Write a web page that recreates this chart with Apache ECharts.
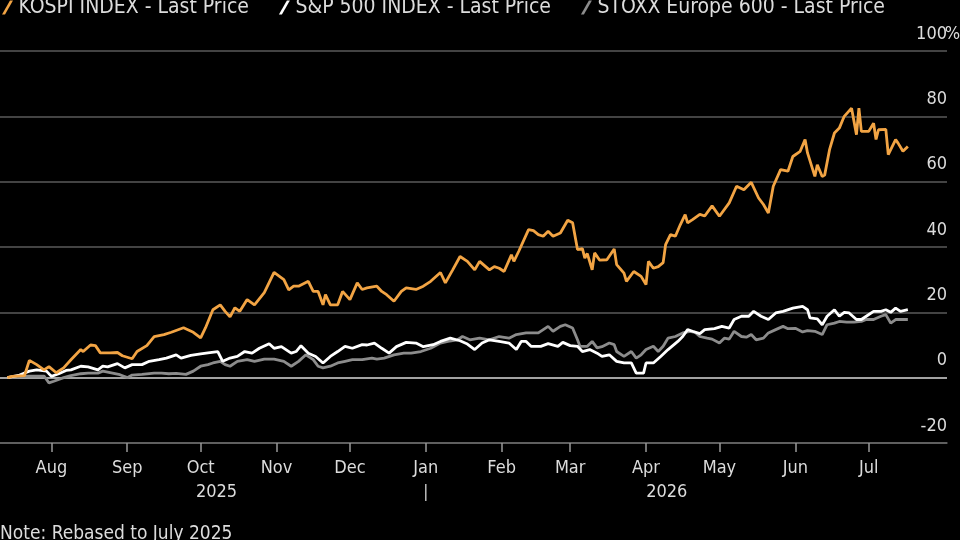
<!DOCTYPE html>
<html>
<head>
<meta charset="utf-8">
<script src="https://cdn.jsdelivr.net/npm/echarts@6/dist/echarts.min.js"></script>
<style>
  html, body { margin: 0; padding: 0; background: #000; }
  #chart { width: 960px; height: 540px; }
</style>
</head>
<body>
<div id="chart"></div>
<script>
const FONT = "'DejaVu Sans Condensed', 'Liberation Sans Narrow', 'DejaVu Sans', sans-serif";
const MONTHS = ["Jan", "Feb", "Mar", "Apr", "May", "Jun", "Jul", "Aug", "Sep", "Oct", "Nov", "Dec"];

// x values are calendar days after 11 Jul 2025, y values are % change
const seriesNames = ["KOSPI INDEX - Last Price", "S&P 500 INDEX - Last Price", "STOXX Europe 600 - Last Price"];
const seriesColors = ["#f2a444", "#ffffff", "#8c8c8c"];

const orangeDays = [3, 5, 10, 12, 15, 18, 20, 23, 26, 29, 33, 34, 37, 39, 41, 45, 48, 50, 54, 56, 60, 63, 67, 70, 75, 79, 82, 84, 87, 90, 92, 94, 96, 98, 101, 104, 108, 112, 116, 118, 120, 122, 126, 128, 130, 132, 133, 135, 138, 140, 143, 146, 148, 150, 154, 156, 158, 161, 164, 166, 170, 173, 176, 180, 182, 185, 188, 191, 194, 196, 200, 202, 204, 206, 209, 210, 212, 216, 218, 220, 222, 224, 226, 229, 232, 234, 236, 238, 239, 240, 242, 243, 245, 248, 251, 252, 255, 256, 259, 262, 264, 265, 267, 269, 271, 272, 274, 276, 278, 280, 281, 283, 286, 288, 291, 294, 298, 301, 304, 307, 310, 312, 314, 316, 319, 322, 324, 327, 329, 330, 333, 334, 336, 337, 339, 341, 343, 345, 348, 350, 351, 352, 355, 357, 358, 359, 362, 363, 366, 367, 369, 371];
const orangeValues = [0, 0.4, 0.6, 5.3, 4, 2.4, 3.4, 1.5, 3, 5.5, 8.6, 8, 10, 9.8, 7.6, 7.6, 7.7, 6.7, 5.8, 8, 9.8, 12.6, 13.2, 13.9, 15.3, 13.9, 12.2, 15.3, 20.8, 22.3, 20.3, 18.6, 21.4, 20.3, 23.9, 22.3, 26, 32.2, 30, 26.9, 28, 28, 29.5, 26.4, 26.4, 22.3, 25.4, 22.3, 22.3, 26.4, 23.9, 29, 27, 27.5, 28, 26.4, 25.4, 23.4, 26.4, 27.5, 27, 28, 29.5, 32.2, 29, 33, 37.1, 35.6, 33, 35.6, 33, 34, 33.5, 32.5, 37.6, 35.6, 38.7, 45.3, 45, 43.8, 43.3, 44.8, 43.3, 44.3, 48.2, 47.4, 39.2, 39.5, 36.6, 38, 33, 38.2, 36, 36.1, 39.4, 34.6, 32, 29.5, 32.5, 31, 28.5, 35.6, 33.5, 34, 35.2, 40.7, 43.8, 43.3, 46.8, 49.9, 47.4, 48.4, 50, 49.5, 52.6, 49.4, 53.5, 58.6, 57.5, 59.8, 55, 53, 50.4, 58.6, 63.7, 63.2, 67.7, 69.3, 72.9, 68.8, 61.6, 65.2, 61.6, 62, 69.8, 74.9, 76.4, 80, 82.5, 74.4, 82.5, 75.4, 75.4, 77.9, 72.9, 75.9, 76, 68.3, 72.9, 71.8, 69.3, 70.8];

const whiteDays = [3, 8, 12, 15, 19, 21, 24, 27, 29, 33, 36, 40, 42, 44, 48, 51, 54, 58, 61, 65, 68, 72, 74, 78, 82, 85, 89, 91, 94, 97, 100, 103, 106, 110, 112, 115, 119, 121, 123, 126, 129, 132, 135, 138, 141, 144, 148, 150, 153, 156, 159, 162, 166, 170, 173, 177, 180, 184, 188, 191, 194, 197, 200, 204, 208, 211, 213, 215, 217, 221, 224, 228, 230, 233, 236, 238, 241, 244, 246, 249, 252, 255, 258, 260, 263, 264, 267, 270, 273, 277, 279, 281, 283, 286, 288, 292, 295, 298, 300, 303, 306, 308, 311, 314, 317, 320, 324, 328, 330, 331, 334, 336, 338, 341, 343, 345, 347, 350, 352, 354, 357, 360, 362, 364, 366, 368, 371];
const whiteValues = [0, 0.8, 2, 2.4, 2, 0.4, 1.2, 2.2, 2.4, 3.5, 3.3, 2.4, 3.5, 3.3, 4.3, 3, 4, 4, 5, 5.5, 6, 7, 6, 6.8, 7.3, 7.6, 8, 5, 6, 6.5, 8, 7.5, 9, 10.4, 9, 9.5, 7.5, 8, 9.8, 7.5, 6.5, 4.5, 6.5, 8, 9.6, 9, 10.1, 10, 10.6, 9, 7.5, 9.5, 10.8, 10.6, 9.5, 10.1, 11.1, 12.1, 11.3, 10.3, 8.6, 10.6, 11.6, 11.1, 10.6, 8.6, 11.1, 11.1, 9.6, 9.6, 10.4, 9.6, 10.8, 9.8, 9.6, 8, 8.6, 7.5, 6.5, 7, 5, 4.5, 4.5, 1.4, 1.4, 4.5, 4.5, 6.5, 8.6, 11.1, 12.6, 14.7, 14.2, 13.5, 14.7, 15, 15.7, 15.2, 17.8, 18.8, 18.8, 20.3, 18.8, 17.8, 19.8, 20.3, 21.3, 21.8, 20.8, 18.3, 18, 16.2, 18.8, 20.8, 18.8, 20, 19.8, 17.8, 17.8, 18.8, 20.3, 20.3, 20.8, 20, 21.3, 20.3, 20.8];

const grayDays = [3, 12, 18, 20, 22, 26, 29, 33, 36, 40, 42, 46, 49, 52, 54, 58, 63, 66, 69, 72, 76, 79, 82, 85, 87, 90, 92, 94, 97, 101, 104, 108, 112, 116, 119, 122, 125, 128, 130, 132, 135, 138, 141, 144, 148, 152, 154, 157, 161, 165, 168, 172, 176, 180, 183, 187, 189, 192, 196, 200, 204, 208, 211, 215, 220, 222, 224, 226, 229, 231, 234, 236, 237, 240, 242, 244, 246, 249, 251, 252, 255, 258, 260, 262, 264, 267, 269, 271, 273, 276, 279, 282, 284, 286, 289, 291, 294, 296, 298, 300, 303, 305, 307, 309, 312, 314, 317, 320, 322, 325, 328, 330, 333, 336, 338, 341, 343, 346, 349, 352, 354, 357, 360, 362, 364, 366, 369, 371];
const grayValues = [0, 0.5, 0.5, -1.6, -1.1, 0, 0.6, 1.2, 1.4, 1.4, 2, 1.4, 0.9, 0, 0.8, 1, 1.4, 1.4, 1.2, 1.3, 1, 2, 3.5, 4, 4.5, 5, 4, 3.5, 5, 5.5, 5, 5.7, 5.7, 5, 3.5, 5, 7, 5.5, 3.5, 3, 3.5, 4.5, 5, 5.5, 5.5, 6, 5.7, 6, 7, 7.5, 7.5, 8, 9, 10.6, 11.1, 11.6, 12.6, 11.6, 12.1, 11.6, 12.6, 12.1, 13.2, 13.7, 13.7, 14.7, 15.7, 14.2, 15.7, 16.2, 15.2, 11.6, 9.6, 9.6, 11.1, 9.1, 9.5, 10.6, 10.1, 8, 6.5, 8, 6, 7, 8.6, 9.6, 8, 9.6, 12.1, 12.6, 13.7, 14.2, 13.9, 12.6, 12.1, 11.8, 10.6, 12.1, 11.8, 14.2, 12.6, 12.4, 13.2, 11.6, 12.1, 13.7, 14.7, 15.7, 15, 15.1, 14, 14.4, 14.2, 13.2, 16.2, 16.7, 17.2, 17, 17, 17.2, 17.8, 17.8, 18.8, 19.3, 16.7, 17.8, 17.8, 17.8];

const monthTicks = ["2025-08-01", "2025-09-01", "2025-10-01", "2025-11-01", "2025-12-01", "2026-01-01", "2026-02-01", "2026-03-01", "2026-04-01", "2026-05-01", "2026-06-01", "2026-07-01"];
const yearLabels = ["2025", "2026"];
const noteText = "Note: Rebased to July 2025";

const DAY = 86400000;
const START = new Date(2025, 6, 11).getTime();
const END = START + 387 * DAY;

function toTime(day) {
  return START + day * DAY;
}

function parseDate(text) {
  const [y, m, d] = text.split("-").map(Number);
  return new Date(y, m - 1, d).getTime();
}

function toPairs(days, values) {
  return days.map((d, i) => [toTime(d), values[i]]);
}

const tickTimes = monthTicks.map(parseDate);
const chart = echarts.init(document.getElementById("chart"));

const legendIcon = "path://M0,14 L8,0 L11,0 L3,14 Z";

function lineSeries(index, days, values, z) {
  return {
    name: seriesNames[index],
    type: "line",
    data: toPairs(days, values),
    showSymbol: false,
    z: z,
    lineStyle: { color: seriesColors[index], width: 2.8 },
    itemStyle: { color: seriesColors[index] },
  };
}

const labelStyle = { color: "#dcdcdc", fontSize: 18, fontFamily: FONT };

chart.setOption({
  backgroundColor: "#000",
  animation: false,
  textStyle: { fontFamily: FONT },
  legend: {
    left: -3,
    top: -8,
    itemWidth: 12,
    itemHeight: 14,
    itemGap: 30,
    icon: legendIcon,
    textStyle: { color: "#dcdcdc", fontSize: 21, fontFamily: FONT },
  },
  grid: { left: 0, right: 13, top: 51, bottom: 97, outerBoundsMode: "none" },
  xAxis: {
    // dates kept as timestamps on a value axis so the month ticks can be placed exactly
    type: "value",
    min: START,
    max: END,
    axisLine: { onZero: false, lineStyle: { color: "#666", width: 1.5 } },
    axisTick: { show: true, customValues: tickTimes, length: 9, lineStyle: { color: "#999", width: 1.5 } },
    axisLabel: {
      customValues: tickTimes,
      margin: 16,
      ...labelStyle,
      formatter: (value) => MONTHS[new Date(value).getMonth()],
    },
    splitLine: { show: false },
  },
  yAxis: {
    type: "value",
    position: "right",
    min: -20,
    max: 100,
    interval: 20,
    axisLine: { show: false },
    axisTick: { show: false },
    axisLabel: {
      inside: true,
      margin: -11,
      verticalAlign: "bottom",
      lineHeight: 20,
      padding: [0, 0, 7, 0],
      ...labelStyle,
      // a fixed-width tail keeps the numbers aligned while "%" hangs past them
      formatter: (value) => "{n|" + value + "}{t|" + (value === 100 ? "%" : " ") + "}",
      rich: {
        n: { ...labelStyle },
        t: { ...labelStyle, width: 11, align: "left" },
      },
    },
    splitLine: {
      lineStyle: {
        color: ["#666", "#d8d8d8", "#5a5a5a", "#5a5a5a", "#5a5a5a", "#5a5a5a", "#5a5a5a"],
        width: 1.6,
      },
    },
  },
  series: [
    lineSeries(0, orangeDays, orangeValues, 4),
    lineSeries(1, whiteDays, whiteValues, 3),
    lineSeries(2, grayDays, grayValues, 2),
  ],
});

// year labels under the month row, centred on each year's share of the data
const janX = chart.convertToPixel({ xAxisIndex: 0 }, parseDate("2026-01-01"));
const firstX = chart.convertToPixel({ xAxisIndex: 0 }, toTime(orangeDays[0]));
const lastX = chart.convertToPixel({ xAxisIndex: 0 }, toTime(orangeDays[orangeDays.length - 1]));
const textFont = "18px " + FONT;

chart.setOption({
  graphic: [
    {
      type: "text",
      x: (firstX + janX) / 2,
      y: 492,
      style: { text: yearLabels[0], fill: "#dcdcdc", font: textFont, align: "center", verticalAlign: "middle" },
    },
    {
      type: "text",
      x: (janX + lastX) / 2,
      y: 492,
      style: { text: yearLabels[1], fill: "#dcdcdc", font: textFont, align: "center", verticalAlign: "middle" },
    },
    {
      type: "line",
      shape: { x1: janX, y1: 484, x2: janX, y2: 501 },
      style: { stroke: "#bbb", lineWidth: 1.5 },
    },
    {
      type: "text",
      x: 0,
      y: 534,
      style: { text: noteText, fill: "#dcdcdc", font: "19px " + FONT, align: "left", verticalAlign: "middle" },
    },
  ],
});
</script>
</body>
</html>
